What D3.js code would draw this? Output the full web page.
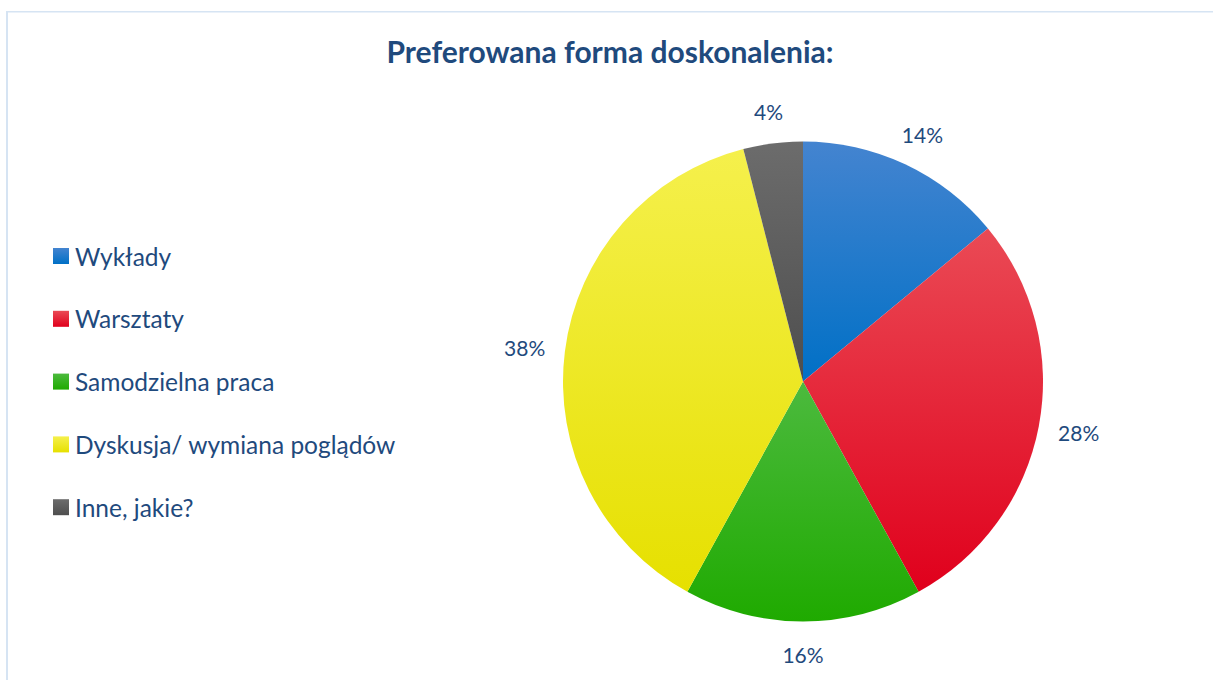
<!DOCTYPE html>
<html>
<head>
<meta charset="utf-8">
<script src="https://cdn.jsdelivr.net/npm/d3@7"></script>
<style>
  body { margin: 0; background: #fff; }
  svg { display: block; font-family: Lato, "Open Sans", sans-serif; }
</style>
</head>
<body>
<div id="chart"></div>
<script>
// data
const categories = ["Wykłady", "Warsztaty", "Samodzielna praca", "Dyskusja/ wymiana poglądów", "Inne, jakie?"];
const values = [14, 28, 16, 38, 4];
const colorsTop = ["#4484d0", "#ea4a55", "#4cba3e", "#f5f04c", "#6c6c6c"];
const colorsBottom = ["#0070c6", "#e0001c", "#1faa00", "#e6e000", "#4e4e4e"];

const data = categories.map((c, i) => ({ name: c, value: values[i], i }));

/** CONSTANTS */
const width = 1213, height = 680;
const cx = 803, cy = 381.5, radius = 240;
const textColor = "#1f4a7d";

const svg = d3.select("#chart").append("svg")
  .attr("width", width)
  .attr("height", height);

// frame lines (left and top only are visible)
svg.append("rect").attr("x", 6).attr("y", 11).attr("width", width).attr("height", 1.5).attr("fill", "#d6e4f3");
svg.append("rect").attr("x", 6).attr("y", 11).attr("width", 2).attr("height", height).attr("fill", "#d6e4f3");

// gradients
const defs = svg.append("defs");
data.forEach((d) => {
  const g = defs.append("linearGradient")
    .attr("id", "grad" + d.i)
    .attr("x1", 0).attr("y1", 0).attr("x2", 0).attr("y2", 1);
  g.append("stop").attr("offset", "0%").attr("stop-color", colorsTop[d.i]);
  g.append("stop").attr("offset", "100%").attr("stop-color", colorsBottom[d.i]);
});

// title
svg.append("text")
  .attr("x", 610)
  .attr("y", 63)
  .attr("text-anchor", "middle")
  .attr("font-size", 30)
  .attr("font-weight", "bold")
  .attr("fill", textColor)
  .text("Preferowana forma doskonalenia:");

/** PIE */
const pie = d3.pie().value((d) => d.value).sort(null);
const arc = d3.arc().innerRadius(0).outerRadius(radius);
const arcs = pie(data);

const g = svg.append("g").attr("transform", `translate(${cx},${cy})`);

g.selectAll("path")
  .data(arcs)
  .join("path")
  .attr("d", arc)
  .attr("fill", (d) => `url(#grad${d.data.i})`);

// outside end labels
const gap = 20;
const labels = g.selectAll("text.lbl")
  .data(arcs)
  .join("text")
  .attr("class", "lbl")
  .attr("font-size", 21)
  .attr("fill", textColor)
  .attr("text-anchor", "middle")
  .attr("dominant-baseline", "central")
  .text((d) => d.data.value + "%");

labels.each(function (d) {
  const bb = this.getBBox();
  const a = (d.startAngle + d.endAngle) / 2;
  const s = Math.sin(a), c = -Math.cos(a);
  const x = (radius + gap) * s + (bb.width / 2) * s;
  const y = (radius + gap) * c + (bb.height / 2) * c;
  d3.select(this).attr("x", x).attr("y", y);
});

/** LEGEND */
const legend = svg.append("g").attr("transform", "translate(53,256)");
const rowH = 62.8;
const rows = legend.selectAll("g")
  .data(data)
  .join("g")
  .attr("transform", (d, i) => `translate(0,${i * rowH})`);

rows.append("rect")
  .attr("x", 0).attr("y", -8)
  .attr("width", 16).attr("height", 16)
  .attr("fill", (d) => `url(#grad${d.i})`);

rows.append("text")
  .attr("x", 22)
  .attr("y", 0)
  .attr("dominant-baseline", "central")
  .attr("font-size", 24.5)
  .attr("fill", textColor)
  .text((d) => d.name);
</script>
</body>
</html>
